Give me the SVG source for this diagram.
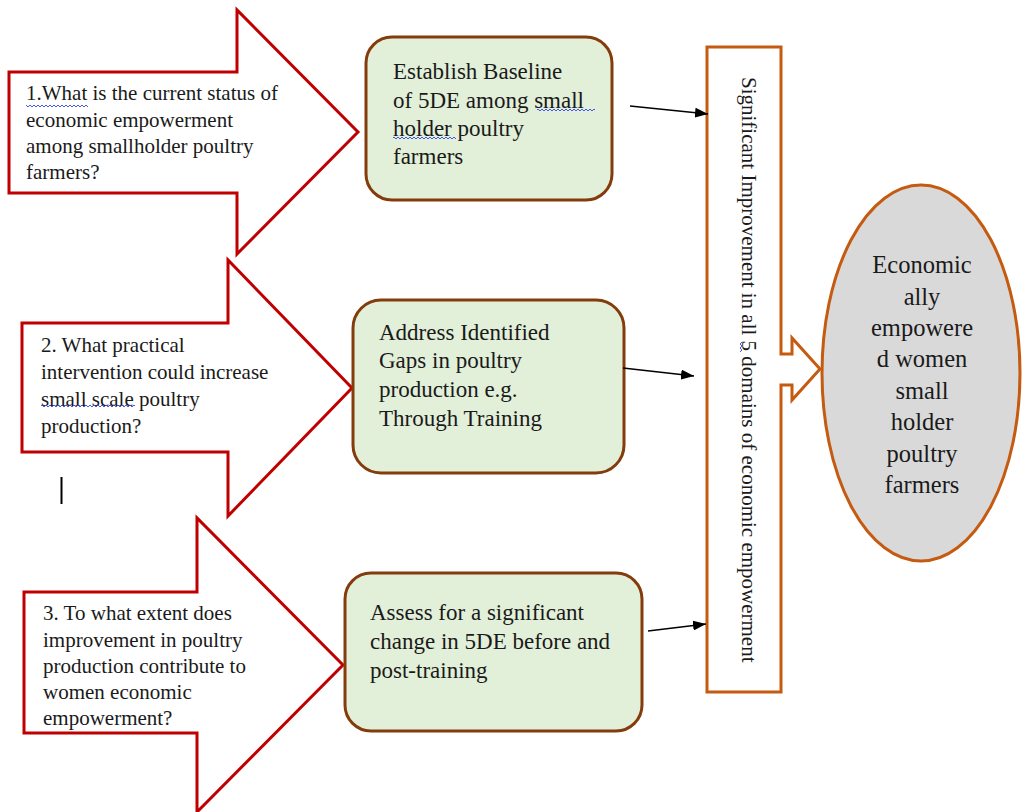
<svg xmlns="http://www.w3.org/2000/svg" width="1022" height="812" viewBox="0 0 1022 812">
<defs>
<style>
.q{fill:#fff;stroke:#C00000;stroke-width:3;stroke-linejoin:miter}
.bx{fill:#E2EFD9;stroke:#843C0C;stroke-width:3}
.or{stroke:#C55A11;stroke-width:3}
.t{font-family:'Liberation Serif','Times New Roman',Tinos,'Noto Serif','DejaVu Serif',serif;fill:#1a1a1a}
.s21{font-size:21px}
.s23{font-size:23px}
.s24{font-size:24.5px;text-anchor:middle}
.cn{stroke:#000;stroke-width:1.5;fill:none}
.sq{fill:url(#wave)}
</style>
<pattern id="wave" patternUnits="userSpaceOnUse" x="0" y="0" width="4" height="4">
<path d="M0,3 L2,1 L4,3" fill="none" stroke="#3344ee" stroke-width="0.9"/>
</pattern>
<marker id="ah" markerUnits="userSpaceOnUse" markerWidth="14" markerHeight="10" refX="13" refY="5" orient="auto">
<path d="M0,0 L13,5 L0,10 Z" fill="#000"/>
</marker>
</defs>
<rect width="1022" height="812" fill="#fff"/>

<g id="q1">
<path class="q" d="M9,72 H237 V10 L358,132 L237,254 V193 H9 Z"/>
<text class="t s21" font-family="Liberation Serif, serif"><tspan x="26" y="100">1.What is the current status of</tspan><tspan x="26" y="127">economic empowerment</tspan><tspan x="26" y="153">among smallholder poultry</tspan><tspan x="26" y="179">farmers?</tspan></text>
<rect class="sq" x="26" y="104" width="62" height="4"/>
</g>

<g id="q2">
<path class="q" d="M22,323 H228 V260 L352,388 L228,516 V452 H22 Z"/>
<text class="t s21"><tspan x="41" y="352">2. What practical</tspan><tspan x="41" y="379">intervention could increase</tspan><tspan x="41" y="406">small scale poultry</tspan><tspan x="41" y="433">production?</tspan></text>
<rect class="sq" x="41" y="404" width="94" height="4"/>
</g>

<g id="q3">
<path class="q" d="M24,592 H197 V518 L343,665 L197,812 V733 H24 Z"/>
<text class="t s21"><tspan x="43" y="620">3. To what extent does</tspan><tspan x="43" y="647">improvement in poultry</tspan><tspan x="43" y="673">production contribute to</tspan><tspan x="43" y="699">women economic</tspan><tspan x="43" y="725">empowerment?</tspan></text>
</g>

<g id="cursor">
<line x1="61.5" y1="477" x2="61.5" y2="504" stroke="#000" stroke-width="2"/>
</g>

<g id="b1">
<rect class="bx" x="366" y="37" width="246" height="163" rx="26"/>
<text class="t s23"><tspan x="393" y="79">Establish Baseline</tspan><tspan x="393" y="108">of 5DE among small</tspan><tspan x="393" y="136">holder poultry</tspan><tspan x="393" y="164">farmers</tspan></text>
<rect class="sq" x="537" y="108" width="58" height="4"/>
<rect class="sq" x="393" y="136" width="63" height="4"/>
</g>

<g id="b2">
<rect class="bx" x="353" y="300" width="271" height="173" rx="28"/>
<text class="t s23"><tspan x="379" y="340">Address Identified</tspan><tspan x="379" y="368">Gaps in poultry</tspan><tspan x="379" y="397">production e.g.</tspan><tspan x="379" y="426">Through Training</tspan></text>
</g>

<g id="b3">
<rect class="bx" x="345" y="573" width="297" height="158" rx="26"/>
<text class="t s23"><tspan x="370" y="620">Assess for a significant</tspan><tspan x="370" y="649">change in 5DE before and</tspan><tspan x="370" y="678">post-training</tspan></text>
</g>

<g id="improve">
<path class="or" fill="#fff" d="M707,47 H781 V354 H792 V338 L820,369 L792,400 V385 H781 V692 H707 Z"/>
<text class="t s21" transform="translate(742,77) rotate(90)">Significant Improvement in all 5 domains of economic empowerment</text>
<path d="M742,342 l-2,2 l2,2 l-2,2 l2,2 l-2,2" fill="none" stroke="#3344ee" stroke-width="0.9"/>
</g>

<g id="outcome">
<ellipse class="or" fill="#D9D9D9" cx="921" cy="373" rx="99" ry="188"/>
<text class="t s24"><tspan x="922" y="273">Economic</tspan><tspan x="922" y="305">ally</tspan><tspan x="922" y="336">empowere</tspan><tspan x="922" y="367">d women</tspan><tspan x="922" y="399">small</tspan><tspan x="922" y="430">holder</tspan><tspan x="922" y="462">poultry</tspan><tspan x="922" y="493">farmers</tspan></text>
</g>

<g id="connectors">
<line class="cn" x1="630" y1="106" x2="708" y2="114" marker-end="url(#ah)"/>
<line class="cn" x1="623" y1="368" x2="694" y2="376" marker-end="url(#ah)"/>
<line class="cn" x1="648" y1="631" x2="706" y2="624" marker-end="url(#ah)"/>
</g>
</svg>
